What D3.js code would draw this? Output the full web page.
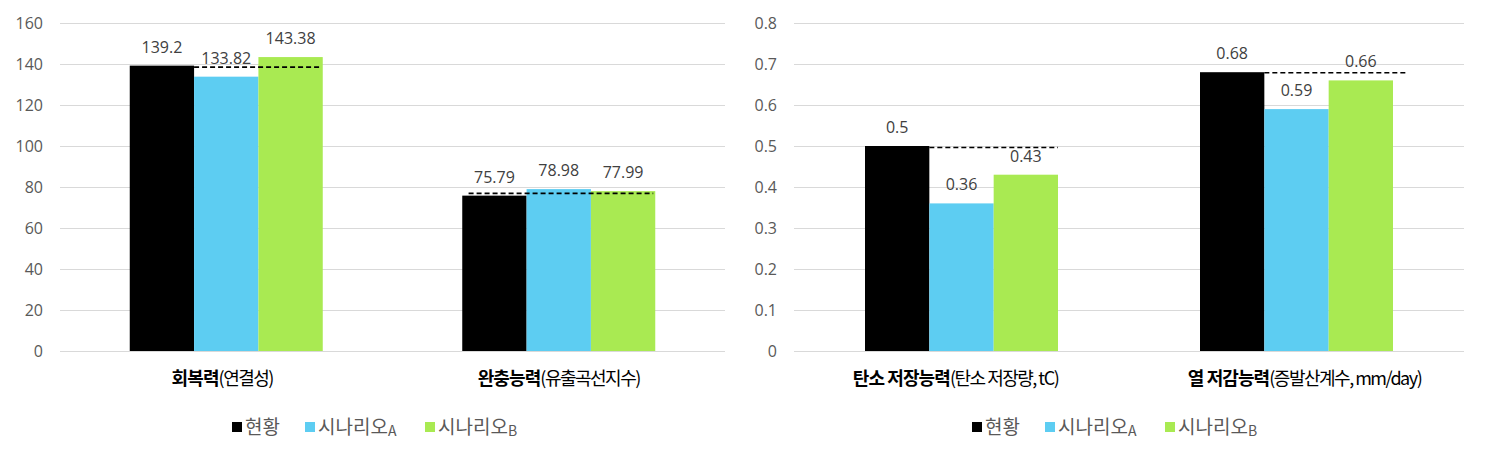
<!DOCTYPE html>
<html><head><meta charset="utf-8">
<script src="https://cdn.jsdelivr.net/npm/d3@7"></script>
<style>
body{margin:0;background:#fff;}
text{font-family:"Noto Sans CJK KR","Open Sans",sans-serif;}
.num{font-family:"Open Sans","Noto Sans CJK KR",sans-serif;}
</style></head>
<body><svg id="c" width="1487" height="457"></svg>
<script>
const seriesNames = ["현황", "시나리오A", "시나리오B"];
const seriesColors = ["#000000", "#5DCDF2", "#A9EA52"];

const leftBold = ["회복력", "완충능력"];
const leftRest = ["(연결성)", "(유출곡선지수)"];
const leftCurrent = [139.2, 75.79];
const leftA = [133.82, 78.98];
const leftB = [143.38, 77.99];
const leftTicks = [0, 20, 40, 60, 80, 100, 120, 140, 160];
const leftLabels = ["139.2", "133.82", "143.38", "75.79", "78.98", "77.99"];

const rightBold = ["탄소 저장능력", "열 저감능력"];
const rightRest = ["(탄소 저장량, tC)", "(증발산계수, mm/day)"];
const rightCurrent = [0.5, 0.68];
const rightA = [0.36, 0.59];
const rightB = [0.43, 0.66];
const rightTicks = [0, 0.1, 0.2, 0.3, 0.4, 0.5, 0.6, 0.7, 0.8];
const rightLabels = ["0.5", "0.36", "0.43", "0.68", "0.59", "0.66"];

const svg = d3.select("#c");

function panel(opt){
  const {x0, x1, yTop, yBot, bold, rest, cur, a, b, ticks, labels, tickFmt, legendX} = opt;
  const g = svg.append("g");
  const y = d3.scaleLinear().domain([ticks[0], ticks[ticks.length-1]]).range([yBot, yTop]);
  const x = d3.scaleBand().domain(d3.range(bold.length)).range([x0, x1]).paddingInner(0).paddingOuter(0);
  const sub = d3.scaleBand().domain([0,1,2]).range([0, 193]);
  g.selectAll("line.grid").data(ticks).enter().append("line")
    .attr("x1", x0).attr("x2", x1)
    .attr("y1", d => Math.round(y(d)) + 0.5).attr("y2", d => Math.round(y(d)) + 0.5)
    .attr("stroke", "#D9D9D9").attr("stroke-width", 1);
  g.selectAll("text.tick").data(ticks).enter().append("text")
    .attr("class", "num")
    .attr("x", x0 - 17).attr("y", d => y(d)).attr("dy", "0.36em")
    .attr("text-anchor", "end").attr("font-size", 16).attr("fill", "#595959")
    .text(tickFmt);
  const vals = [cur, a, b];
  bold.forEach((_, i) => {
    const cx = x(i) + x.bandwidth()/2;
    const left = cx - 193/2;
    vals.forEach((s, j) => {
      const v = s[i];
      g.append("rect")
        .attr("x", left + sub(j)).attr("width", sub.bandwidth())
        .attr("y", y(v)).attr("height", y(0) - y(v))
        .attr("fill", seriesColors[j]);
    });
    const d = opt.dash[i];
    g.append("line")
      .attr("x1", left + sub(1) + d.start).attr("x2", left + sub(2) + sub.bandwidth() - 1 + d.end)
      .attr("y1", y(cur[i]) + d.dy).attr("y2", y(cur[i]) + d.dy)
      .attr("stroke", "#000").attr("stroke-width", 1.6).attr("stroke-dasharray", "5,3");
    vals.forEach((s, j) => {
      const v = s[i];
      g.append("text")
        .attr("class", "num")
        .attr("x", left + sub(j) + sub.bandwidth()/2).attr("y", y(v) - 13)
        .attr("text-anchor", "middle").attr("font-size", 16).attr("fill", "#404040")
        .text(labels[i*3 + j]);
    });
    const t = g.append("text")
      .attr("x", cx + opt.catShift[i]).attr("y", 385)
      .attr("text-anchor", "middle").attr("font-size", 18).attr("fill", "#000")
      .attr("letter-spacing", "-0.9px");
    t.append("tspan").attr("font-weight", "bold").text(bold[i]);
    t.append("tspan").attr("font-weight", "normal").attr("letter-spacing", "-1.5px").text(rest[i]);
  });
  const lg = g.append("g").attr("transform", `translate(${legendX},427)`);
  const offs = [0, 73, 193];
  seriesNames.forEach((n, j) => {
    const it = lg.append("g").attr("transform", `translate(${offs[j]},0)`);
    it.append("rect").attr("x", 0).attr("y", -5).attr("width", 10).attr("height", 10).attr("fill", seriesColors[j]);
    const tx = it.append("text").attr("x", 13).attr("y", 0).attr("dy", "0.36em")
      .attr("font-size", 19).attr("fill", "#595959");
    if (n.length > 2) {
      tx.append("tspan").text(n.slice(0, -1));
      tx.append("tspan").attr("font-size", 14).attr("dy", 2).text(n.slice(-1));
    } else {
      tx.text(n);
    }
  });
}

panel({x0: 60, x1: 725, yTop: 23, yBot: 351, bold: leftBold, rest: leftRest,
  cur: leftCurrent, a: leftA, b: leftB, ticks: leftTicks, labels: leftLabels,
  tickFmt: d => d3.format("d")(d), legendX: 232, catShift: [-4, 0],
  dash: [{start: 0, end: -2, dy: 1.5}, {start: -58, end: -1, dy: -2.3}]});
panel({x0: 794, x1: 1464, yTop: 23, yBot: 351, bold: rightBold, rest: rightRest,
  cur: rightCurrent, a: rightA, b: rightB, ticks: rightTicks, labels: rightLabels,
  tickFmt: d => d === 0 ? "0" : d3.format(".1f")(d), legendX: 972, catShift: [-6, 8],
  dash: [{start: 0, end: 1, dy: 1.5}, {start: 0, end: 16, dy: 0.5}]});
</script></body></html>
